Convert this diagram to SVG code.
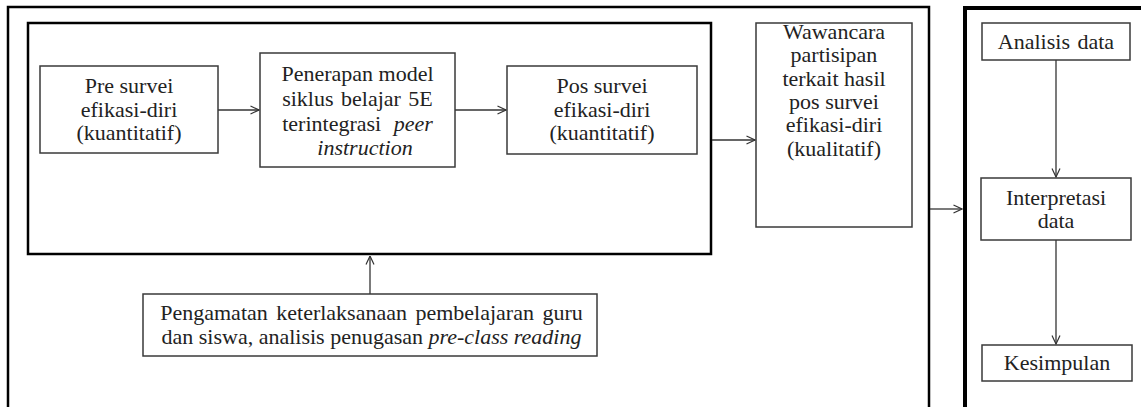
<svg xmlns="http://www.w3.org/2000/svg" width="1141" height="407" viewBox="0 0 1141 407">
<style>
.frame{fill:none;stroke:#000;stroke-width:2.5}
.panel{fill:none;stroke:#000;stroke-width:4}
.box{fill:#fff;stroke:#3a3a3a;stroke-width:1.5}
.t{font-family:"Liberation Serif","Times New Roman",serif;font-size:22px;fill:#222;text-anchor:middle}
.i{font-style:italic}
.c{fill:none;stroke:#333;stroke-width:1.3}
</style>
<defs>
<marker id="ah" viewBox="0 0 10 10" refX="9.5" refY="5" markerWidth="10" markerHeight="10" markerUnits="userSpaceOnUse" orient="auto">
<path d="M1,1 L9.5,5 L1,9" fill="none" stroke="#333" stroke-width="1.2"/>
</marker>
</defs>
<rect width="1141" height="407" fill="#fff"/>
<g id="frames">
<rect class="frame" x="8" y="7" width="921" height="420"/>
<rect class="frame" x="28" y="23" width="683" height="231"/>
<rect class="panel" x="965" y="8" width="190" height="420"/>
</g>
<g id="connectors">
<line class="c" x1="218" y1="110" x2="259" y2="110" marker-end="url(#ah)"/>
<line class="c" x1="455" y1="110" x2="506" y2="110" marker-end="url(#ah)"/>
<line class="c" x1="712" y1="140" x2="755" y2="140" marker-end="url(#ah)"/>
<line class="c" x1="930" y1="209" x2="962" y2="209" marker-end="url(#ah)"/>
<line class="c" x1="370" y1="294" x2="370" y2="256" marker-end="url(#ah)"/>
<line class="c" x1="1056" y1="60" x2="1056" y2="177" marker-end="url(#ah)"/>
<line class="c" x1="1056" y1="240" x2="1056" y2="344" marker-end="url(#ah)"/>
</g>
<g id="pre-survei">
<rect class="box" x="40" y="66" width="178" height="87"/>
<text class="t" x="129" y="93">Pre survei</text>
<text class="t" x="129" y="117">efikasi-diri</text>
<text class="t" x="129" y="140">(kuantitatif)</text>
</g>
<g id="penerapan">
<rect class="box" x="260" y="53" width="195" height="114"/>
<text class="t" x="357.5" y="81">Penerapan model</text>
<text class="t" x="357.5" y="106" word-spacing="2">siklus belajar 5E</text>
<text class="t" x="357.5" y="131" word-spacing="7">terintegrasi <tspan class="i">peer</tspan></text>
<text class="t i" x="365" y="155">instruction</text>
</g>
<g id="pos-survei">
<rect class="box" x="507" y="66" width="190" height="88"/>
<text class="t" x="602" y="93">Pos survei</text>
<text class="t" x="602" y="117">efikasi-diri</text>
<text class="t" x="602" y="140">(kuantitatif)</text>
</g>
<g id="wawancara">
<rect class="box" x="756" y="23" width="156" height="204"/>
<text class="t" x="834" y="39">Wawancara</text>
<text class="t" x="834" y="62">partisipan</text>
<text class="t" x="834" y="86">terkait hasil</text>
<text class="t" x="834" y="109">pos survei</text>
<text class="t" x="834" y="132">efikasi-diri</text>
<text class="t" x="834" y="156">(kualitatif)</text>
</g>
<g id="pengamatan">
<rect class="box" x="143" y="294" width="454" height="62"/>
<text class="t" x="371.5" y="320" word-spacing="3">Pengamatan keterlaksanaan pembelajaran guru</text>
<text class="t" x="371.5" y="343.5">dan siswa, analisis penugasan <tspan class="i">pre-class reading</tspan></text>
</g>
<g id="analisis">
<rect class="box" x="982" y="23" width="148" height="37"/>
<text class="t" x="1056" y="49" word-spacing="2">Analisis data</text>
</g>
<g id="interpretasi">
<rect class="box" x="981" y="178" width="150" height="62"/>
<text class="t" x="1056" y="205">Interpretasi</text>
<text class="t" x="1056" y="228">data</text>
</g>
<g id="kesimpulan">
<rect class="box" x="982" y="345" width="150" height="36"/>
<text class="t" x="1057" y="370">Kesimpulan</text>
</g>
</svg>
